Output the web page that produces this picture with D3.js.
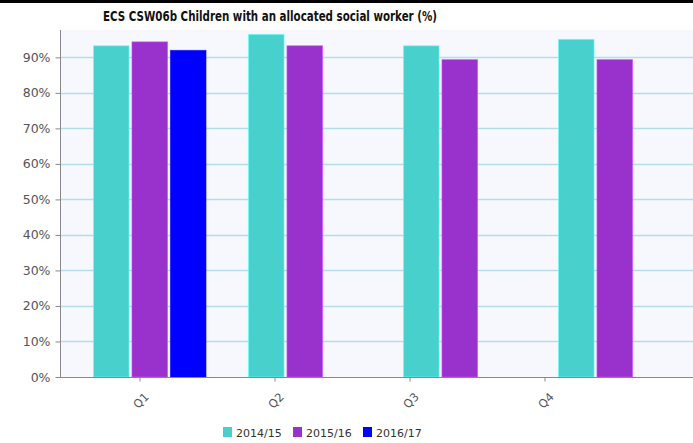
<!DOCTYPE html>
<html>
<head>
<meta charset="utf-8">
<script src="https://cdn.jsdelivr.net/npm/d3@7"></script>
<style>
  html, body { margin: 0; padding: 0; background: #fff; }
  svg { display: block; }
</style>
</head>
<body>
<svg id="chart" width="693" height="443"></svg>
<script>
// Quarterly share of children with an allocated social worker, by year
const categories = ["Q1", "Q2", "Q3", "Q4"];
const seriesNames = ["2014/15", "2015/16", "2016/17"];
const values2014 = [93.4, 96.6, 93.4, 95.2];
const values2015 = [94.5, 93.4, 89.5, 89.5];
const values2016 = [92.1, null, null, null];
const yTicks = [0, 10, 20, 30, 40, 50, 60, 70, 80, 90];
const colors = ["#48D1CC", "#9932CC", "#0000FF"];

const series = [values2014, values2015, values2016];

const svg = d3.select("#chart");
const W = 693, H = 443;
const plot = { left: 60, right: 693, top: 30, bottom: 377 };

// top frame line
svg.append("rect").attr("x", 0).attr("y", 0).attr("width", W).attr("height", 3).attr("fill", "#000");

// title
svg.append("text")
  .attr("x", 270).attr("y", 21)
  .attr("text-anchor", "middle")
  .attr("font-family", "'DejaVu Sans Condensed', 'DejaVu Sans', sans-serif")
  .attr("font-weight", "bold")
  .attr("font-size", 14)
  .attr("textLength", 334)
  .attr("lengthAdjust", "spacingAndGlyphs")
  .attr("fill", "#111")
  .text("ECS CSW06b Children with an allocated social worker (%)");

// plot background
svg.append("rect")
  .attr("x", plot.left).attr("y", plot.top)
  .attr("width", plot.right - plot.left).attr("height", plot.bottom - plot.top)
  .attr("fill", "#f7f8fe");

const y = d3.scaleLinear().domain([0, 97.7]).range([plot.bottom, plot.top]);

// bar groups
const x0 = d3.scaleBand().domain(categories).range([72, 692]).paddingInner(0).paddingOuter(0);
const x1 = d3.scaleBand().domain(seriesNames).range([21, 134.5]).paddingInner(0.05);

// label positions on the category axis
const xTick = d3.scalePoint().domain(categories).range([139.5, 544.5]);

// gridlines
svg.append("g").selectAll("line").data(yTicks.filter(d => d > 0)).join("line")
  .attr("x1", plot.left).attr("x2", plot.right)
  .attr("y1", d => Math.round(y(d)) + 0.5).attr("y2", d => Math.round(y(d)) + 0.5)
  .attr("stroke", "#b5dde9").attr("stroke-width", 1.3);

// bars
const groups = svg.append("g").selectAll("g").data(categories).join("g")
  .attr("transform", c => `translate(${x0(c)},0)`);
groups.selectAll("rect")
  .data((c, i) => seriesNames.map((s, k) => ({ s, k, v: series[k][i] })).filter(d => d.v != null))
  .join("rect")
  .attr("x", d => x1(d.s) + 0.5)
  .attr("y", d => y(d.v) + 0.5)
  .attr("width", x1.bandwidth() - 1)
  .attr("height", d => plot.bottom - y(d.v) - 0.5)
  .attr("fill", d => colors[d.k])
  .attr("stroke", d => d3.color(colors[d.k]).brighter(0.9).copy({opacity: 0.6}))
  .attr("stroke-width", 1);

// y axis
const yAxis = d3.axisLeft(y).tickValues(yTicks).tickSize(5).tickPadding(5).tickFormat(d => d + "%");
const gy = svg.append("g").attr("transform", `translate(${plot.left + 0.5},0)`).call(yAxis);
gy.select(".domain").attr("stroke", "#888").attr("d", `M0,${plot.top}V${plot.bottom}`);
gy.selectAll(".tick line").attr("stroke", "#888");
gy.selectAll(".tick text")
  .attr("font-family", "'DejaVu Sans', Verdana, sans-serif")
  .attr("font-size", 12.5).attr("fill", "#555");

// x axis
const xAxis = d3.axisBottom(xTick).tickSize(4).tickPadding(10);
const gx = svg.append("g").attr("transform", `translate(0,${plot.bottom + 0.5})`).call(xAxis);
gx.select(".domain").attr("stroke", "#888").attr("d", `M${plot.left},0H${plot.right}`);
gx.selectAll(".tick line").attr("stroke", "#888");
gx.selectAll(".tick text")
  .attr("font-family", "'DejaVu Sans', Verdana, sans-serif")
  .attr("font-size", 11.5).attr("fill", "#555")
  .attr("text-anchor", "middle")
  .attr("dy", "0.35em")
  .attr("transform", "translate(1,23) rotate(-45)")
  .attr("y", 0);

// legend
const legendX = [223, 293, 363];
const legend = svg.append("g").selectAll("g").data(seriesNames).join("g")
  .attr("transform", (d, i) => `translate(${legendX[i]},427)`);
legend.append("rect").attr("width", 9).attr("height", 10)
  .attr("fill", (d, i) => colors[i]);
legend.append("text").attr("x", 13).attr("y", 10)
  .attr("font-family", "'DejaVu Sans', Verdana, sans-serif")
  .attr("font-size", 11).attr("fill", "#333")
  .text(d => d);
</script>
</body>
</html>
